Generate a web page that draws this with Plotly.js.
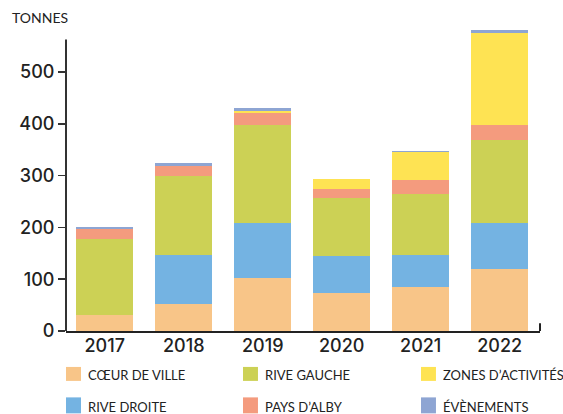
<!DOCTYPE html>
<html><head><meta charset="utf-8">
<script src="https://cdn.plot.ly/plotly-3.0.1.min.js"></script>
<style>html,body{margin:0;padding:0;background:#fff}#chart{width:563px;height:414px}</style>
</head><body><div id="chart"></div>
<script>
const years = ['2017','2018','2019','2020','2021','2022'];
const coeurDeVille = [30, 53, 103, 74, 84, 120];
const riveDroite   = [0, 94, 106, 71, 62, 89];
const riveGauche   = [148, 152, 189, 112, 118, 160];
const paysDAlby    = [18, 20, 23, 17, 27, 29];
const zonesActiv   = [0, 0, 4, 19, 54, 177];
const evenements   = [4, 5, 6, 0, 2, 6];
const yTicks = [0, 100, 200, 300, 400, 500];

const series = [
  {name:'CŒUR DE VILLE', y:coeurDeVille, color:'#F8C588', col:0, row:0},
  {name:'RIVE DROITE', y:riveDroite, color:'#74B3E2', col:0, row:1},
  {name:'RIVE GAUCHE', y:riveGauche, color:'#CCD155', col:1, row:0},
  {name:'PAYS D\u2019ALBY', y:paysDAlby, color:'#F49B7E', col:1, row:1},
  {name:'ZONES D\u2019ACTIVITÉS', y:zonesActiv, color:'#FEE353', col:2, row:0},
  {name:'ÉVÈNEMENTS', y:evenements, color:'#8EA5D3', col:2, row:1}
];
const traces = series.map(s => ({
  type:'bar', x:years, y:s.y, name:s.name, showlegend:false,
  marker:{color:s.color, line:{width:0}}, width:0.72, hoverinfo:'skip'
}));

// legend built as layout decorations (paper coordinates)
const colX = [0, 0.3734, 0.7489];
const swW = 0.0316;
const rowY = [[-0.1647, -0.1186], [-0.2718, -0.2191]];
const textDX = 0.0437;
const textY = [-0.145, -0.2504];
const legendFont = {family:'Lato, sans-serif', size:13, color:'#222'};

const shapes = [
  {type:'line', xref:'paper', yref:'y', x0:0, x1:0, y0:0, y1:563, line:{color:'#333', width:2}},
  {type:'line', xref:'paper', yref:'y', x0:1, x1:1, y0:0, y1:15, line:{color:'#222', width:2}}
];
const annotations = [
  {text:'TONNES', xref:'paper', yref:'paper', x:-0.118, y:1.036, xanchor:'left', yanchor:'middle',
   showarrow:false, font:{family:'Lato, sans-serif', size:14, color:'#222'}}
];
series.forEach(s => {
  shapes.push({type:'rect', xref:'paper', yref:'paper', layer:'above',
    x0:colX[s.col], x1:colX[s.col]+swW, y0:rowY[s.row][0], y1:rowY[s.row][1],
    fillcolor:s.color, line:{width:0}});
  annotations.push({text:s.name, xref:'paper', yref:'paper', x:colX[s.col]+textDX, y:textY[s.row],
    xanchor:'left', yanchor:'middle', showarrow:false, font:legendFont, borderpad:0});
});

const layout = {
  width:563, height:414,
  margin:{l:66, r:23, t:28, b:82.5},
  barmode:'stack',
  showlegend:false,
  paper_bgcolor:'#fff', plot_bgcolor:'#fff',
  font:{family:'Lato, sans-serif', color:'#222'},
  xaxis:{type:'category', range:[-0.49, 5.51], showline:true, linecolor:'#222', linewidth:2,
    ticks:'', showgrid:false, zeroline:false, fixedrange:true, automargin:false, ticklabelstandoff:-3,
    tickfont:{family:'Inter, Roboto, sans-serif', size:18, weight:500, color:'#222'}},
  yaxis:{range:[0, 585], tickvals:yTicks, ticktext:yTicks.map(String), showline:false,
    ticks:'outside', ticklen:7, tickwidth:1.5, tickcolor:'#333', automargin:false,
    showgrid:false, zeroline:false, fixedrange:true,
    tickfont:{family:'Inter, Roboto, sans-serif', size:18, weight:500, color:'#222'}},
  shapes:shapes,
  annotations:annotations
};
Plotly.newPlot('chart', traces, layout, {displayModeBar:false, staticPlot:true});
</script></body></html>
